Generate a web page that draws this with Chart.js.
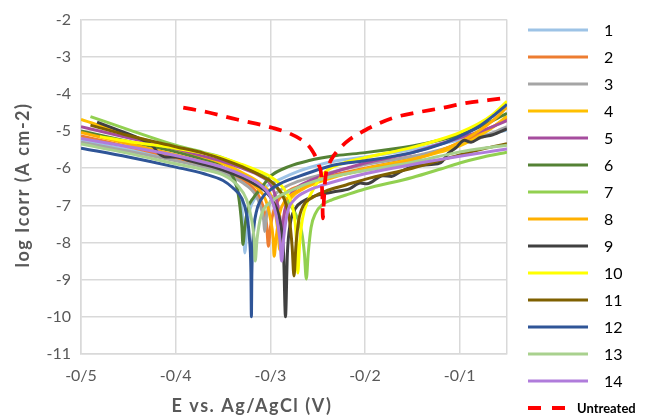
<!DOCTYPE html>
<html>
<head>
<meta charset="utf-8">
<script src="https://cdn.jsdelivr.net/npm/chart.js@4.4.1/dist/chart.umd.min.js"></script>
<style>
  html, body { margin: 0; padding: 0; background: #fff; }
  #wrap { width: 646px; height: 419px; }
</style>
</head>
<body>
<div id="wrap"><canvas id="chart" width="646" height="419"></canvas></div>
<script>
// potentiodynamic polarization curves, [E (V vs Ag/AgCl), log Icorr]
const labels = ['1','2','3','4','5','6','7','8','9','10','11','12','13','14','Untreated'];

const s1 = [[-0.5,-5.26],[-0.45,-5.5],[-0.4,-5.76],[-0.37,-5.93],[-0.35,-6.1],[-0.34,-6.3],[-0.334,-6.6],[-0.33,-7.1],[-0.328,-7.7],[-0.327,-8.28],[-0.325,-7.7],[-0.322,-7.15],[-0.316,-6.8],[-0.305,-6.5],[-0.29,-6.3],[-0.27,-6.08],[-0.25,-5.92],[-0.23,-5.8],[-0.2,-5.7],[-0.15,-5.5],[-0.12,-5.34],[-0.1,-5.24],[-0.08,-5.14],[-0.065,-5.06],[-0.05,-4.98]];
const s2 = [[-0.5,-5.13],[-0.45,-5.42],[-0.4,-5.72],[-0.37,-5.92],[-0.35,-6.08],[-0.33,-6.3],[-0.316,-6.6],[-0.308,-7.0],[-0.304,-7.5],[-0.302,-8.1],[-0.3,-7.6],[-0.296,-7.1],[-0.29,-6.8],[-0.28,-6.6],[-0.26,-6.4],[-0.25,-6.3],[-0.2,-6.0],[-0.15,-5.74],[-0.12,-5.52],[-0.1,-5.32],[-0.08,-5.08],[-0.065,-4.88],[-0.05,-4.66]];
const s3 = [[-0.5,-5.3],[-0.45,-5.54],[-0.4,-5.8],[-0.37,-5.97],[-0.35,-6.12],[-0.33,-6.38],[-0.316,-6.7],[-0.31,-7.05],[-0.307,-7.4],[-0.306,-7.7],[-0.304,-7.3],[-0.3,-6.9],[-0.29,-6.6],[-0.27,-6.35],[-0.25,-6.2],[-0.2,-5.9],[-0.15,-5.68],[-0.12,-5.5],[-0.1,-5.36],[-0.08,-5.2],[-0.065,-5.05],[-0.05,-4.88]];
const s4 = [[-0.5,-4.69],[-0.45,-5.1],[-0.4,-5.48],[-0.37,-5.72],[-0.35,-5.88],[-0.33,-6.12],[-0.31,-6.42],[-0.3,-6.7],[-0.295,-7.15],[-0.292,-7.7],[-0.29,-8.2],[-0.288,-7.7],[-0.284,-7.1],[-0.278,-6.8],[-0.265,-6.55],[-0.25,-6.38],[-0.2,-6.02],[-0.15,-5.76],[-0.12,-5.56],[-0.1,-5.4],[-0.08,-5.14],[-0.065,-4.9],[-0.05,-4.6]];
const s5 = [[-0.5,-4.88],[-0.45,-5.18],[-0.4,-5.48],[-0.37,-5.68],[-0.35,-5.82],[-0.33,-6.0],[-0.31,-6.22],[-0.3,-6.42],[-0.294,-6.8],[-0.29,-7.3],[-0.2875,-7.9],[-0.286,-7.35],[-0.283,-6.95],[-0.275,-6.6],[-0.26,-6.35],[-0.25,-6.25],[-0.2,-5.86],[-0.15,-5.58],[-0.12,-5.34],[-0.1,-5.18],[-0.08,-5.02],[-0.065,-4.88],[-0.05,-4.72]];
const s6 = [[-0.5,-5.0],[-0.45,-5.28],[-0.4,-5.56],[-0.37,-5.78],[-0.35,-5.98],[-0.34,-6.2],[-0.335,-6.55],[-0.332,-7.05],[-0.33,-7.6],[-0.329,-8.05],[-0.327,-7.6],[-0.324,-7.1],[-0.318,-6.8],[-0.31,-6.55],[-0.3,-6.22],[-0.28,-5.95],[-0.26,-5.8],[-0.23,-5.66],[-0.2,-5.58],[-0.15,-5.4],[-0.12,-5.24],[-0.1,-5.1],[-0.08,-4.9],[-0.065,-4.72],[-0.05,-4.52]];
const s7 = [[-0.49,-4.61],[-0.45,-4.96],[-0.4,-5.38],[-0.37,-5.58],[-0.35,-5.72],[-0.33,-5.92],[-0.31,-6.15],[-0.3,-6.35],[-0.29,-6.62],[-0.28,-6.95],[-0.272,-7.3],[-0.267,-7.7],[-0.264,-8.3],[-0.262,-8.98],[-0.26,-8.3],[-0.257,-7.6],[-0.252,-7.2],[-0.245,-6.98],[-0.235,-6.85],[-0.22,-6.72],[-0.2,-6.56],[-0.15,-6.25],[-0.12,-6.02],[-0.1,-5.86],[-0.075,-5.7],[-0.05,-5.57]];
const s8 = [[-0.5,-5.04],[-0.45,-5.34],[-0.4,-5.64],[-0.37,-5.84],[-0.35,-5.98],[-0.33,-6.22],[-0.315,-6.5],[-0.305,-6.85],[-0.3,-7.35],[-0.297,-7.9],[-0.296,-8.37],[-0.294,-7.9],[-0.29,-7.2],[-0.285,-6.9],[-0.27,-6.6],[-0.25,-6.35],[-0.2,-6.04],[-0.15,-5.78],[-0.12,-5.52],[-0.1,-5.3],[-0.08,-5.0],[-0.065,-4.72],[-0.05,-4.36]];
const s9 = [[-0.483,-4.76],[-0.46,-4.98],[-0.44,-5.18],[-0.425,-5.38],[-0.418,-5.6],[-0.41,-5.7],[-0.4,-5.7],[-0.385,-5.8],[-0.37,-5.9],[-0.35,-6.05],[-0.33,-6.25],[-0.315,-6.45],[-0.305,-6.62],[-0.296,-6.95],[-0.29,-7.4],[-0.286,-8.3],[-0.284,-10],[-0.282,-8.3],[-0.279,-7.5],[-0.274,-7.1],[-0.265,-6.88],[-0.251,-6.73],[-0.234,-6.64],[-0.216,-6.55],[-0.205,-6.4],[-0.198,-6.42],[-0.181,-6.2],[-0.172,-6.22],[-0.163,-6.1],[-0.152,-5.97],[-0.145,-5.93],[-0.13,-5.9],[-0.12,-5.85],[-0.112,-5.6],[-0.104,-5.45],[-0.095,-5.25],[-0.088,-5.3],[-0.078,-5.17],[-0.065,-5.1],[-0.05,-4.94]];
const s10 = [[-0.48,-5.15],[-0.45,-5.28],[-0.4,-5.46],[-0.37,-5.6],[-0.35,-5.72],[-0.33,-5.9],[-0.31,-6.1],[-0.3,-6.22],[-0.29,-6.42],[-0.282,-6.7],[-0.276,-7.1],[-0.273,-7.7],[-0.271,-8.82],[-0.269,-8.0],[-0.266,-7.35],[-0.26,-6.85],[-0.252,-6.45],[-0.242,-6.1],[-0.225,-5.88],[-0.2,-5.72],[-0.15,-5.44],[-0.12,-5.22],[-0.1,-5.04],[-0.08,-4.8],[-0.065,-4.55],[-0.05,-4.2]];
const s11 = [[-0.49,-4.84],[-0.45,-5.12],[-0.4,-5.42],[-0.37,-5.6],[-0.35,-5.76],[-0.33,-5.96],[-0.31,-6.2],[-0.295,-6.45],[-0.285,-6.85],[-0.28,-7.35],[-0.277,-8.1],[-0.275,-8.9],[-0.273,-8.1],[-0.27,-7.4],[-0.265,-7.0],[-0.255,-6.78],[-0.24,-6.6],[-0.22,-6.45],[-0.2,-6.3],[-0.15,-6.0],[-0.1,-5.64],[-0.075,-5.48],[-0.05,-5.34]];
const s12 = [[-0.5,-5.46],[-0.45,-5.7],[-0.4,-5.97],[-0.37,-6.15],[-0.35,-6.33],[-0.34,-6.52],[-0.33,-6.82],[-0.325,-7.25],[-0.322,-7.9],[-0.3205,-8.8],[-0.32,-10],[-0.3195,-8.8],[-0.318,-7.8],[-0.315,-7.2],[-0.31,-6.85],[-0.3,-6.58],[-0.29,-6.42],[-0.27,-6.22],[-0.25,-6.04],[-0.23,-5.9],[-0.2,-5.8],[-0.15,-5.58],[-0.12,-5.36],[-0.1,-5.14],[-0.08,-4.88],[-0.065,-4.6],[-0.05,-4.28]];
const s13 = [[-0.5,-5.35],[-0.45,-5.6],[-0.4,-5.88],[-0.37,-6.04],[-0.35,-6.18],[-0.335,-6.45],[-0.325,-6.85],[-0.32,-7.35],[-0.317,-7.95],[-0.316,-8.5],[-0.314,-7.9],[-0.31,-7.3],[-0.3,-6.92],[-0.28,-6.62],[-0.25,-6.32],[-0.2,-6.06],[-0.15,-5.84],[-0.1,-5.56],[-0.075,-5.46],[-0.05,-5.38]];
const s14 = [[-0.5,-5.2],[-0.45,-5.42],[-0.4,-5.66],[-0.37,-5.84],[-0.35,-5.98],[-0.33,-6.18],[-0.31,-6.46],[-0.3,-6.76],[-0.294,-7.25],[-0.29,-7.9],[-0.288,-8.5],[-0.286,-7.9],[-0.282,-7.2],[-0.275,-6.86],[-0.26,-6.6],[-0.25,-6.5],[-0.2,-6.15],[-0.15,-5.9],[-0.1,-5.68],[-0.075,-5.58],[-0.05,-5.48]];
const untreated = [[-0.392,-4.37],[-0.365,-4.5],[-0.335,-4.69],[-0.315,-4.8],[-0.298,-4.91],[-0.28,-5.06],[-0.268,-5.22],[-0.26,-5.38],[-0.254,-5.6],[-0.249,-5.9],[-0.246,-6.25],[-0.245,-6.8],[-0.2445,-7.35],[-0.2435,-6.9],[-0.242,-6.3],[-0.238,-5.9],[-0.233,-5.66],[-0.225,-5.42],[-0.216,-5.22],[-0.205,-5.05],[-0.195,-4.91],[-0.17,-4.64],[-0.145,-4.5],[-0.117,-4.37],[-0.092,-4.24],[-0.07,-4.17],[-0.05,-4.1]];

const curves = [s1, s2, s3, s4, s5, s6, s7, s8, s9, s10, s11, s12, s13, s14, untreated];
const colors = ['#9DC3E6','#ED7D31','#A5A5A5','#FFC000','#A64D9E','#548235','#92D050',
                '#FFB000','#404040','#FFFF00','#7F6000','#2F5597','#A9D18E','#B07CDB','#FF0000'];

const xTicks = [-0.5, -0.4, -0.3, -0.2, -0.1];
const yTicks = [-11, -10, -9, -8, -7, -6, -5, -4, -3, -2];

const FONT = 'Lato, "Open Sans", sans-serif';
const GREY = '#595959';

// legend on the right + axis titles, drawn after the chart
const extras = {
    id: 'extras',
    afterDraw(chart) {
        const ctx = chart.ctx;
        chart.data.datasets.forEach(function(ds, i) {
            const y = 30 + i * 27;
            const dashed = ds.borderDash && ds.borderDash.length;
            ctx.save();
            ctx.strokeStyle = ds.borderColor;
            ctx.lineWidth = dashed ? 4 : 3;
            ctx.lineCap = 'butt';
            ctx.setLineDash(dashed ? [13, 11] : []);
            ctx.beginPath();
            ctx.moveTo(528, y);
            ctx.lineTo(dashed ? 565 : 588, y);
            ctx.stroke();
            ctx.setLineDash([]);
            ctx.fillStyle = '#000';
            ctx.textBaseline = 'middle';
            ctx.textAlign = 'left';
            if (dashed) {
                ctx.font = 'bold 13px ' + FONT;
                ctx.fillText(ds.label, 577, y + 1);
            } else {
                ctx.font = '16px ' + FONT;
                ctx.fillText(ds.label, 604, y + 1);
            }
            ctx.restore();
        });

        // axis titles (x title sits left of the plot centre in the original)
        ctx.save();
        ctx.fillStyle = GREY;
        ctx.font = 'bold 18px ' + FONT;
        ctx.letterSpacing = '1.5px';
        ctx.textAlign = 'center';
        ctx.textBaseline = 'middle';
        ctx.fillText('E vs. Ag/AgCl (V)', 252, 406);
        ctx.translate(23, 185);
        ctx.rotate(-Math.PI / 2);
        ctx.fillText('log Icorr (A cm-2)', 0, 0);
        ctx.restore();
    }
};

const datasets = curves.map(function(c, i) {
    const isRef = i === curves.length - 1;
    return {
        label: labels[i],
        data: c.map(function(p) { return {x: p[0], y: p[1]}; }),
        borderColor: colors[i],
        backgroundColor: colors[i],
        borderWidth: isRef ? 3.75 : 3,
        borderDash: isRef ? [13, 9] : [],
        pointRadius: 0,
        cubicInterpolationMode: 'monotone',
        fill: false,
        order: curves.length - i
    };
});

const ctx = document.getElementById('chart').getContext('2d');
const chartobj = new Chart(ctx, {
    type: 'line',
    data: { datasets: datasets },
    options: {
        responsive: false,
        animation: false,
        devicePixelRatio: 1,
        layout: { padding: { left: 0, right: 139, top: 16, bottom: 0 } },
        plugins: {
            legend: { display: false },
            tooltip: { enabled: false }
        },
        scales: {
            x: {
                type: 'linear',
                min: -0.5,
                max: -0.05,
                afterBuildTicks: function(scale) {
                    scale.ticks = xTicks.concat([-0.05]).map(function(v) { return {value: v}; });
                },
                ticks: {
                    color: GREY,
                    font: { family: FONT, size: 16 },
                    padding: 12,
                    maxRotation: 0,
                    autoSkip: false,
                    callback: function(v) {
                        if (xTicks.indexOf(v) < 0) return '';
                        return '-0/' + Math.round(-v * 10);
                    }
                },
                grid: { color: '#D9D9D9', lineWidth: 1.5, drawTicks: false },
                border: { color: '#D9D9D9', width: 1.5 },
                afterFit: function(scale) { scale.height = 65; }
            },
            y: {
                type: 'linear',
                min: -11,
                max: -2,
                afterBuildTicks: function(scale) {
                    scale.ticks = yTicks.map(function(v) { return {value: v}; });
                },
                ticks: {
                    color: GREY,
                    font: { family: FONT, size: 16 },
                    padding: 10,
                    callback: function(v) { return String(v); }
                },
                grid: { color: '#D9D9D9', lineWidth: 1.5, drawTicks: false },
                border: { color: '#D9D9D9', width: 1.5 },
                afterFit: function(scale) { scale.width = 81; }
            }
        }
    },
    plugins: [extras]
});
</script>
</body>
</html>
